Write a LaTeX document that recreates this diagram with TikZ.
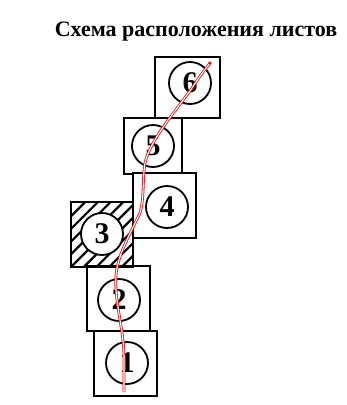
\documentclass[tikz,border=0pt]{standalone}
\usepackage{fontspec}
\setmainfont{Liberation Serif}
\begin{document}
\begin{tikzpicture}[x=1pt,y=-1pt,
  sheet/.style={draw=black,line width=2.2pt,fill=white},
  num/.style={circle,draw=black,line width=1.8pt,minimum size=42pt,inner sep=0pt,fill=white,font=\bfseries\fontsize{30}{30}\selectfont},
  route/.style={draw=red,line width=0.8pt,double=white,double distance=1.1pt}]
\useasboundingbox (0,0) rectangle (347,405);
\node[font=\bfseries\fontsize{22}{24}\selectfont,anchor=base] (title) at (196,36) {Схема расположения листов};
% sheets
\draw[sheet] (155,57) rectangle (220,118);
\draw[sheet] (124,118) rectangle (182,174);
\draw[sheet] (133,173) rectangle (196,238);
\draw[sheet] (87,266) rectangle (150,331);
\draw[sheet] (94,331) rectangle (157,396);
% hatched sheet 3
\begin{scope}
\clip (71,202) rectangle (133,267);
\foreach \k in {-4,...,12} {
  \draw[line width=2.2pt] (71+\k*12.7,267) -- ++(80,-80);
}
\end{scope}
\draw[sheet,fill=none] (71,202) rectangle (133,267);
% numbered circles
\node[num] (n6) at (190,83) {6};
\node[num] (n5) at (153,146) {5};
\node[num] (n4) at (167,207) {4};
\node[num] (n3) at (102,234) {3};
\node[num] (n2) at (119,300) {2};
\node[num] (n1) at (127,363) {1};
% route
\coordinate (s) at (210,63);
\coordinate (e) at (124,392);
\draw[route] (s) .. controls (200,76) .. (192,88)
  .. controls (175,112) and (150,140) .. (145,163)
  .. controls (142,180) and (145,205) .. (138,217)
  .. controls (128,238) and (118,255) .. (116,275)
  .. controls (114,300) and (124,330) .. (124,357) -- (e);
\fill[red] (s) circle (1.6pt);
\end{tikzpicture}
\end{document}
